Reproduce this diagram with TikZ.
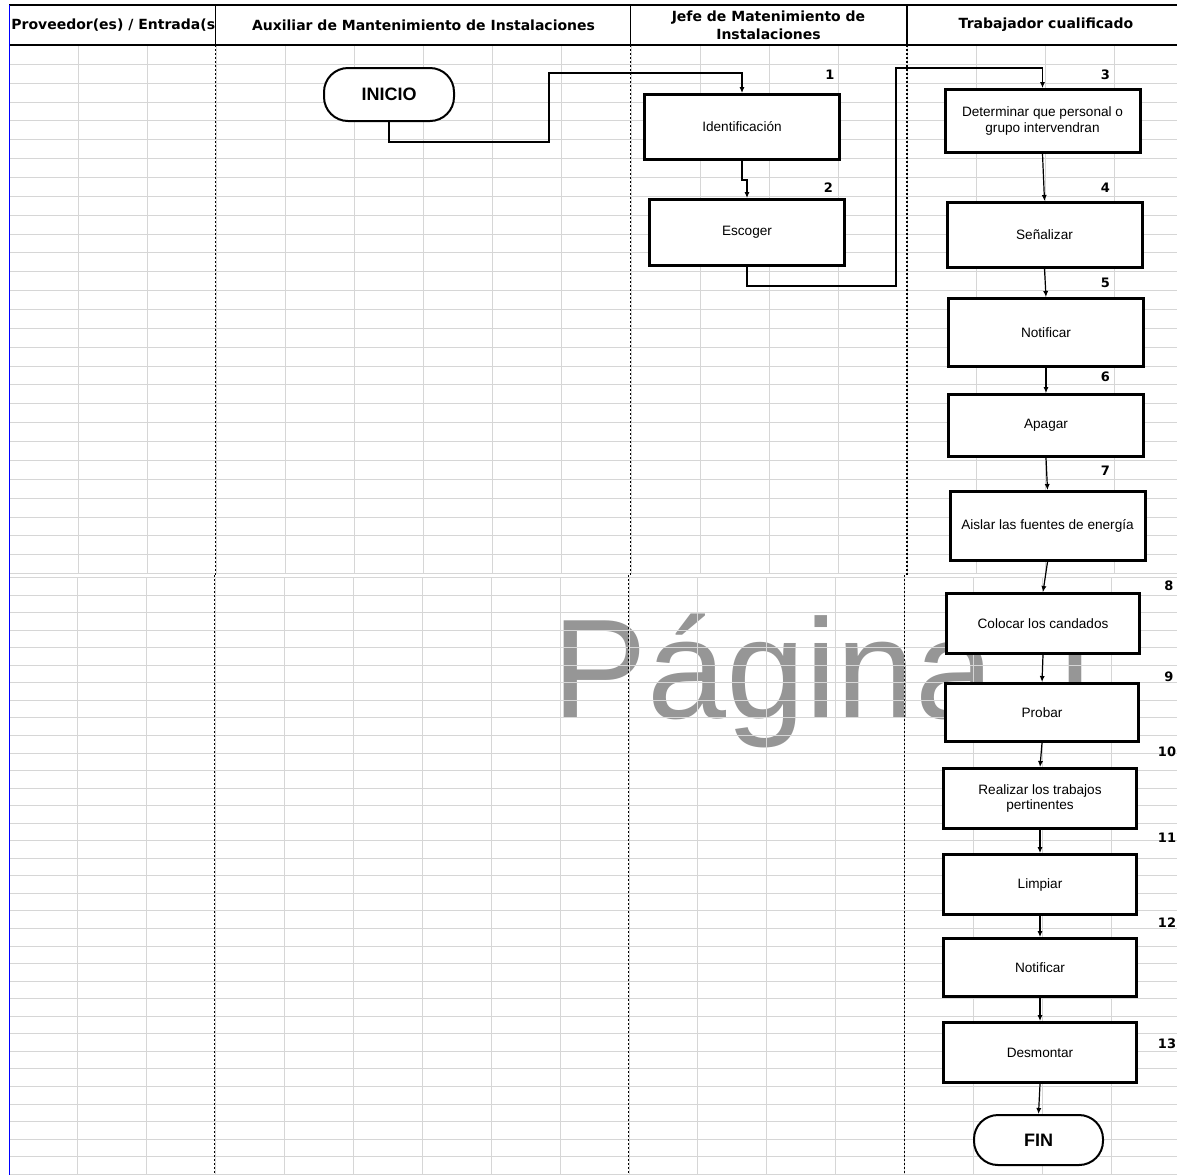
\documentclass[tikz,border=0pt]{standalone}
\usepackage{fontspec}
\setmainfont{Liberation Sans}
\newfontfamily\titulos{DejaVu Sans}
\usetikzlibrary{arrows.meta}
\definecolor{rejillagris}{RGB}{214,214,214}
\definecolor{marcagris}{RGB}{150,150,150}

\begin{document}
\begin{tikzpicture}[x=0.5pt,y=-0.5pt]
  \useasboundingbox (0,0) rectangle (1177,1175);
  \fill[white] (0,0) rectangle (1177,1175);

  % Marca de agua
  \node[anchor=base west, inner sep=0pt, text=marcagris, font=\fontsize{71}{71}\selectfont] (marca) at (552,718) {Página 1};

  % Rejilla
  \tikzstyle{rejilla}=[draw=rejillagris, line width=0.6pt]
  \foreach \j in {1,...,28} \draw[rejilla] (9,{round(45+18.86*\j)+0.5}) -- (1177,{round(45+18.86*\j)+0.5});
  \foreach \j in {0,...,34} \draw[rejilla] (9,{round(577+17.55*\j)+0.5}) -- (1177,{round(577+17.55*\j)+0.5});
  \foreach \k in {1,...,16} {
    \draw[rejilla] ({round(8.6+69.1*\k)+0.5},45) -- ({round(8.6+69.1*\k)+0.5},573);
    \draw[rejilla] ({round(8.5+68.9*\k)+0.5},577) -- ({round(8.5+68.9*\k)+0.5},1175);
  }

  % Carriles
  \tikzstyle{carril}=[line width=0.75pt, dash pattern=on 1pt off 1pt]
  \foreach \x/\xx in {215.5/214.5, 630.5/628.5, 907/904.5} {
    \draw[carril] (\x,45) -- (\x,575);
    \draw[carril] (\xx,575) -- (\xx,1175);
  }

  % Cabecera
  \draw[line width=0.75pt] (9,5) -- (1177,5) (9,45) -- (1177,45);
  \draw[line width=0.75pt] (215.5,5) -- (215.5,45) (630.5,5) -- (630.5,45) (907,5) -- (907,45);
  \draw[blue, line width=0.75pt] (9.5,5) -- (9.5,1175);

  \tikzstyle{titulo}=[font=\titulos\bfseries\fontsize{7}{9.2}\selectfont, align=center, inner sep=0pt]
  \node[titulo, anchor=west] (prov) at (11,25) {Proveedor(es) / Entrada(s};
  \node[titulo] (aux) at (423.5,25) {Auxiliar de Mantenimiento de Instalaciones};
  \node[titulo] (jefe) at (768.5,25) {Jefe de Matenimiento de\\Instalaciones};
  \node[titulo] (trab) at (1046,25) {Trabajador cualificado};

  % Pasos
  \tikzstyle{paso}=[draw, line width=1.5pt, fill=white, minimum width=97.5pt, align=center, inner sep=2pt, font=\fontsize{6.8}{7.8}\selectfont]
  \tikzstyle{terminal}=[draw, rounded corners=12pt, line width=1pt, fill=white, font=\bfseries\fontsize{9}{9}\selectfont]
  \tikzstyle{num}=[font=\titulos\bfseries\fontsize{6.5}{6.5}\selectfont, inner sep=0pt]
  \tikzstyle{flecha}=[-{Latex[length=3pt,width=2.6pt]}, line width=0.6pt]

  \node[terminal, minimum width=65pt, minimum height=26.5pt] (inicio) at (389,94.5) {INICIO};
  \node[paso, minimum height=32.5pt] (ident) at (742,127) {Identificación};
  \node[paso, minimum height=33pt] (escoger) at (747,232.5) {Escoger};
  \node[paso, minimum height=31.5pt] (determ) at (1042.5,121) {Determinar que personal o\\grupo intervendran};
  \node[paso, minimum height=32.5pt] (senal) at (1044.5,235) {Señalizar};
  \node[paso, minimum height=34pt] (notif) at (1046,332.5) {Notificar};
  \node[paso, minimum height=31pt] (apagar) at (1046,425.5) {Apagar};
  \node[paso, minimum height=34.5pt] (aislar) at (1047.5,526) {Aislar las fuentes de energía};
  \node[paso, minimum width=96.5pt, minimum height=30pt] (candados) at (1043,623.5) {Colocar los candados};
  \node[paso, minimum width=96.5pt, minimum height=29pt] (probar) at (1042,712.5) {Probar};
  \node[paso, minimum width=96.5pt, minimum height=30pt] (trabajos) at (1040,798.5) {Realizar los trabajos\\pertinentes};
  \node[paso, minimum width=96.5pt, minimum height=30pt] (limpiar) at (1040,884.5) {Limpiar};
  \node[paso, minimum width=96.5pt, minimum height=29pt] (notifdos) at (1040,967.5) {Notificar};
  \node[paso, minimum width=96.5pt, minimum height=30pt] (desmontar) at (1040,1052.5) {Desmontar};
  \node[terminal, minimum width=64.5pt, minimum height=25pt] (fin) at (1038.5,1140) {FIN};

  % Numeros
  \node[num] (n1) at (830,75) {1};
  \node[num] (n2) at (828.5,188) {2};
  \node[num] (n3) at (1105.5,75) {3};
  \node[num] (n4) at (1105.5,188) {4};
  \node[num] (n5) at (1105.5,283) {5};
  \node[num] (n6) at (1105.5,377) {6};
  \node[num] (n7) at (1105.5,471) {7};
  \node[num] (n8) at (1169,586) {8};
  \node[num] (n9) at (1169,677) {9};
  \node[num] (n10) at (1167,752) {10};
  \node[num] (n11) at (1167,838) {11};
  \node[num] (n12) at (1167,923) {12};
  \node[num] (n13) at (1167,1044) {13};

  % Conectores
  \coordinate (c1) at (549,142);
  \coordinate (c2) at (549,73);
  \coordinate (c3) at (896,286);
  \coordinate (c4) at (896,68);
  \draw[flecha] (inicio.south) |- (c1) -- (c2) -| (ident.north);
  \draw[flecha] (ident.south) -- ++(0,19) -| (escoger.north);
  \draw[flecha] (escoger.south) |- (c3) -- (c4) -| (determ.north);
  \foreach \a/\b in {determ/senal, senal/notif, notif/apagar, apagar/aislar, aislar/candados, candados/probar, probar/trabajos, trabajos/limpiar, limpiar/notifdos, notifdos/desmontar, desmontar/fin}
    \draw[flecha] (\a.south) -- (\b.north);
\end{tikzpicture}
\end{document}
